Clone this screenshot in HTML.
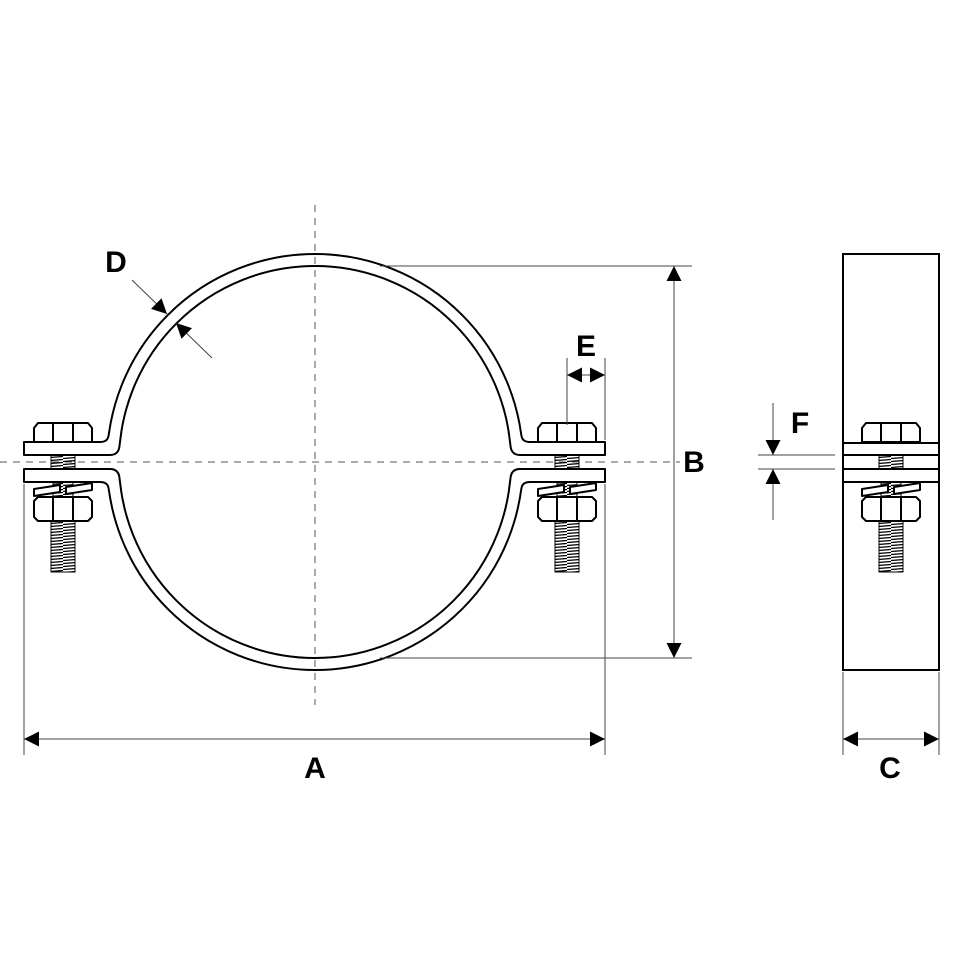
<!DOCTYPE html>
<html><head><meta charset="utf-8"><style>
html,body{margin:0;padding:0;background:#fff;}
svg{display:block;}
text{font-family:"Liberation Sans Narrow","Liberation Sans",sans-serif;font-weight:bold;font-size:30px;fill:#000;}
</style></head><body>
<svg width="960" height="960" viewBox="0 0 960 960" xmlns="http://www.w3.org/2000/svg">
<defs>
<pattern id="th" width="26" height="3" patternUnits="userSpaceOnUse">
<path d="M0,2.5 L26,0.5" stroke="#000" stroke-width="1.3"/>
</pattern>
<g id="bolt" stroke="#000" stroke-width="2" fill="#fff" stroke-linejoin="round">
<polygon points="-29,442 -29,428 -25,423 25,423 29,428 29,442"/>
<line x1="-10" y1="424" x2="-10" y2="442"/><line x1="10" y1="424" x2="10" y2="442"/>
<rect x="-12" y="455" width="24" height="14" fill="url(#th)" stroke-width="1"/>
<rect x="-12" y="521" width="24" height="51" fill="url(#th)" stroke-width="1"/>
<rect x="-10" y="482" width="20" height="15" fill="url(#th)" stroke-width="1"/>
<polygon points="-29,489 -3,485 -3,492 -29,496"/>
<polygon points="3,487 29,483 29,490 3,494"/>
<polygon points="-29,501 -25,497 25,497 29,501 29,517 25,521 -25,521 -29,517"/>
<line x1="-10" y1="497" x2="-10" y2="521"/><line x1="10" y1="497" x2="10" y2="521"/>
</g>
<marker id="ar" viewBox="0 0 10 10" refX="10" refY="5" markerWidth="15" markerHeight="15" markerUnits="userSpaceOnUse" orient="auto-start-reverse"><path d="M0,0 L10,5 L0,10 Z" fill="#000"/></marker>
</defs>

<g stroke="#000" stroke-width="2" fill="none">
<circle cx="315" cy="462" r="208"/>
<circle cx="315" cy="462" r="196"/>
</g>
<rect x="95" y="433" width="35" height="59" fill="#fff"/>
<rect x="500" y="433" width="35" height="59" fill="#fff"/>

<g stroke="#555" stroke-width="1" stroke-dasharray="7,6" fill="none">
<line x1="315" y1="205" x2="315" y2="705"/>
<line x1="0" y1="462" x2="680" y2="462"/>
</g>

<g stroke="#000" stroke-width="2" fill="#fff" stroke-linejoin="round">
<path d="M109.2,432 L108.5,436 Q107.5,442 100,442 L24,442 L24,455 L110,455 Q119,455 119.6,445 L121.3,432"/>
<path d="M109.2,492 L108.5,488 Q107.5,482 100,482 L24,482 L24,469 L110,469 Q119,469 119.6,479 L121.3,492"/>
<path d="M520.8,432 L521.5,436 Q522.5,442 530,442 L605,442 L605,455 L520,455 Q511,455 510.4,445 L508.7,432"/>
<path d="M520.8,492 L521.5,488 Q522.5,482 530,482 L605,482 L605,469 L520,469 Q511,469 510.4,479 L508.7,492"/>
</g>
<use href="#bolt" transform="translate(63,0)"/>
<use href="#bolt" transform="translate(567,0)"/>

<rect x="843" y="254" width="96" height="416" fill="#fff" stroke="#000" stroke-width="2"/>
<g stroke="#000" stroke-width="2" fill="#fff">
<rect x="843" y="443" width="96" height="12"/>
<rect x="843" y="469" width="96" height="13"/>
</g>
<use href="#bolt" transform="translate(891,0)"/>

<g stroke="#444" stroke-width="1" fill="none">
<line x1="380" y1="266" x2="692" y2="266"/>
<line x1="380" y1="658" x2="692" y2="658"/>
<line x1="674" y1="266" x2="674" y2="658" marker-start="url(#ar)" marker-end="url(#ar)"/>
<line x1="24" y1="484" x2="24" y2="755"/>
<line x1="605" y1="484" x2="605" y2="755"/>
<line x1="24" y1="739" x2="605" y2="739" marker-start="url(#ar)" marker-end="url(#ar)"/>
<line x1="843" y1="672" x2="843" y2="755"/>
<line x1="939" y1="672" x2="939" y2="755"/>
<line x1="843" y1="739" x2="939" y2="739" marker-start="url(#ar)" marker-end="url(#ar)"/>
<line x1="567" y1="358" x2="567" y2="425"/>
<line x1="605" y1="358" x2="605" y2="440"/>
<line x1="567" y1="375" x2="605" y2="375" marker-start="url(#ar)" marker-end="url(#ar)"/>
<line x1="758" y1="455" x2="835" y2="455"/>
<line x1="758" y1="469" x2="835" y2="469"/>
<line x1="773" y1="403" x2="773" y2="455" marker-end="url(#ar)"/>
<line x1="773" y1="520" x2="773" y2="469" marker-end="url(#ar)"/>
<line x1="132" y1="280" x2="167" y2="314" marker-end="url(#ar)"/>
<line x1="212" y1="358" x2="176" y2="323" marker-end="url(#ar)"/>
</g>

<text x="116" y="272" text-anchor="middle">D</text>
<text x="586" y="356" text-anchor="middle">E</text>
<text x="694" y="472" text-anchor="middle">B</text>
<text x="800" y="433" text-anchor="middle">F</text>
<text x="315" y="778" text-anchor="middle">A</text>
<text x="890" y="778" text-anchor="middle">C</text>
</svg>
</body></html>
